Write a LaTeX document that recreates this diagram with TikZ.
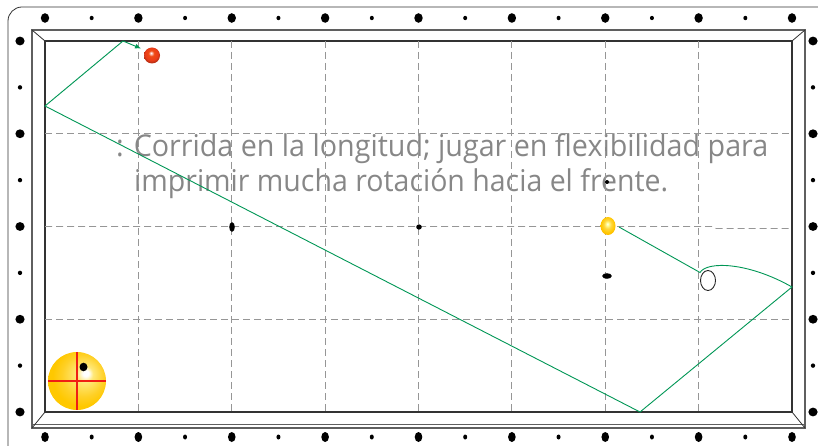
\documentclass[tikz,border=0pt]{standalone}
\usepackage{fontspec}
\usepackage{graphicx}
\newfontfamily\capfont{Open Sans}
\usetikzlibrary{arrows.meta,shapes.geometric}

\definecolor{pathgreen}{RGB}{0,150,85}
\definecolor{gridgray}{RGB}{150,150,150}
\definecolor{txtgray}{RGB}{135,135,135}
\definecolor{railgray}{RGB}{95,95,95}
\definecolor{cushion}{RGB}{50,50,50}
\definecolor{spinyel}{RGB}{255,200,0}
\definecolor{spinlight}{RGB}{255,232,120}
\definecolor{crossred}{RGB}{240,30,20}
\definecolor{ballred}{RGB}{235,60,25}

% sphere shadings (the central 50bp square is fitted to the path)
\pgfdeclareradialshading{spinball}{\pgfpoint{8bp}{7bp}}{%
  color(0bp)=(white); color(2.5bp)=(white); color(7bp)=(spinlight);
  color(18bp)=(spinyel!85!white); color(25bp)=(spinyel); color(50bp)=(spinyel)}
\pgfdeclareradialshading{redball}{\pgfpoint{-3bp}{8bp}}{%
  color(0bp)=(white); color(3bp)=(ballred!30!white); color(9bp)=(ballred!80!orange);
  color(20bp)=(ballred); color(25bp)=(ballred!80!black); color(50bp)=(ballred!80!black)}
\pgfdeclareradialshading{yelball}{\pgfpoint{-2bp}{6bp}}{%
  color(0bp)=(white); color(4bp)=(yellow!40!white); color(12bp)=(spinyel!75!white);
  color(22bp)=(spinyel); color(25bp)=(spinyel!85!orange); color(50bp)=(spinyel!85!orange)}

\tikzset{
  gridline/.style={gridgray, dash pattern=on 7pt off 4pt, line width=0.8pt},
  pathline/.style={pathgreen, line width=0.9pt, line join=miter},
  caption/.style={anchor=base west, inner sep=0pt, text=txtgray},
}

\begin{document}
\begin{tikzpicture}[x=1pt,y=-1pt]
\useasboundingbox (0,0) rectangle (818,446);
\clip (0,0) rectangle (818,446);

% table body outline
\draw[cushion, line width=0.8pt, rounded corners=14pt] (8,7) rectangle (840,470);

% diamonds on the rails
\foreach \k in {0,...,16} {
  \pgfmathsetmacro\xx{45+46.6875*\k}
  \ifodd\k
    \fill (\xx,18) ellipse [x radius=2pt, y radius=2.2pt];
    \fill (\xx,437) ellipse [x radius=2pt, y radius=2.5pt];
  \else
    \fill (\xx,18) ellipse [x radius=4.2pt, y radius=4.8pt];
    \fill (\xx,437) ellipse [x radius=3.8pt, y radius=5pt];
  \fi
}
\foreach \k in {0,...,8} {
  \pgfmathsetmacro\yy{41+46.375*\k}
  \ifodd\k
    \fill (20,\yy) ellipse [x radius=2.2pt, y radius=2.2pt];
    \fill (813,\yy) ellipse [x radius=2.2pt, y radius=2.2pt];
  \else
    \fill (20,\yy) ellipse [x radius=4.6pt, y radius=4.4pt];
    \fill (813,\yy) ellipse [x radius=4.6pt, y radius=4.4pt];
  \fi
}

% rail and cushion frames
\draw[railgray, line width=1.6pt] (32,30) rectangle (805,428);
\draw[railgray, line width=0.9pt] (32,424.5) -- (805,424.5);
\draw[cushion, line width=1.1pt] (45,41) rectangle (792,412);
\draw[cushion, line width=0.8pt] (32,30) -- (45,41) (805,30) -- (792,41)
  (32,428) -- (45,412) (805,428) -- (792,412);

% caption
\node[caption] (line1) at (116,157)
  {\resizebox{652pt}{\height}{\capfont\fontsize{30}{36}\selectfont : Corrida en la longitud; jugar en flexibilidad para}};
\node[caption] (line2) at (134,192)
  {\resizebox{534pt}{\height}{\capfont\fontsize{30}{36}\selectfont imprimir mucha rotación hacia el frente.}};

% grid
\foreach \k in {1,...,7}
  \draw[gridline] ({45+93.375*\k},41) -- ({45+93.375*\k},412);
\draw[gridline] (45,133.75) -- (792,133.75);
\draw[gridline] (45,226.5) -- (712,226.5) -- (716,228.5) -- (792,228.5);
\draw[gridline] (45,319.25) -- (792,319.25);

% spots on the cloth
\fill (232,227) ellipse [x radius=2.8pt, y radius=4.8pt];
\fill (419,227) ellipse [x radius=2.8pt, y radius=2.6pt];
\fill (607,182) ellipse [x radius=2pt, y radius=2pt];
\fill (607,276) ellipse [x radius=4.8pt, y radius=2.8pt];

% balls
\node[circle, inner sep=0pt, minimum size=16pt, shade, shading=redball] (red) at (152,55.5) {};
\node[ellipse, inner sep=0pt, minimum width=15pt, minimum height=18pt, shade, shading=yelball] (yellow) at (608,226) {};
\node[ellipse, draw=black!85, line width=0.9pt, inner sep=0pt, minimum width=15pt, minimum height=20pt] (cue) at (708,280.5) {};

% cue ball path
\coordinate (start) at (619,227);
\coordinate (hit) at (700,272.5);
\coordinate (r1) at (792,287);
\coordinate (b1) at (640,412);
\coordinate (l1) at (45,106);
\coordinate (t1) at (123,41);
\coordinate (tip) at (141,48.5);
\draw[pathline] (start) -- (hit) .. controls (707,261) and (748,262) .. (r1)
  -- (b1) -- (l1) -- (t1);
\draw[pathline, -{Latex[length=6pt,width=5pt]}] (t1) -- (tip);

% spin indicator
\node[circle, inner sep=0pt, minimum size=58pt, shade, shading=spinball] (spin) at (77,381) {};
\draw[draw=crossred, line width=1.1pt] (spin.north) -- (spin.south);
\draw[draw=crossred, line width=1.1pt] (spin.west) -- (spin.east);
\fill[black] (83.5,367) ellipse [x radius=4pt, y radius=4.3pt];
\end{tikzpicture}
\end{document}
